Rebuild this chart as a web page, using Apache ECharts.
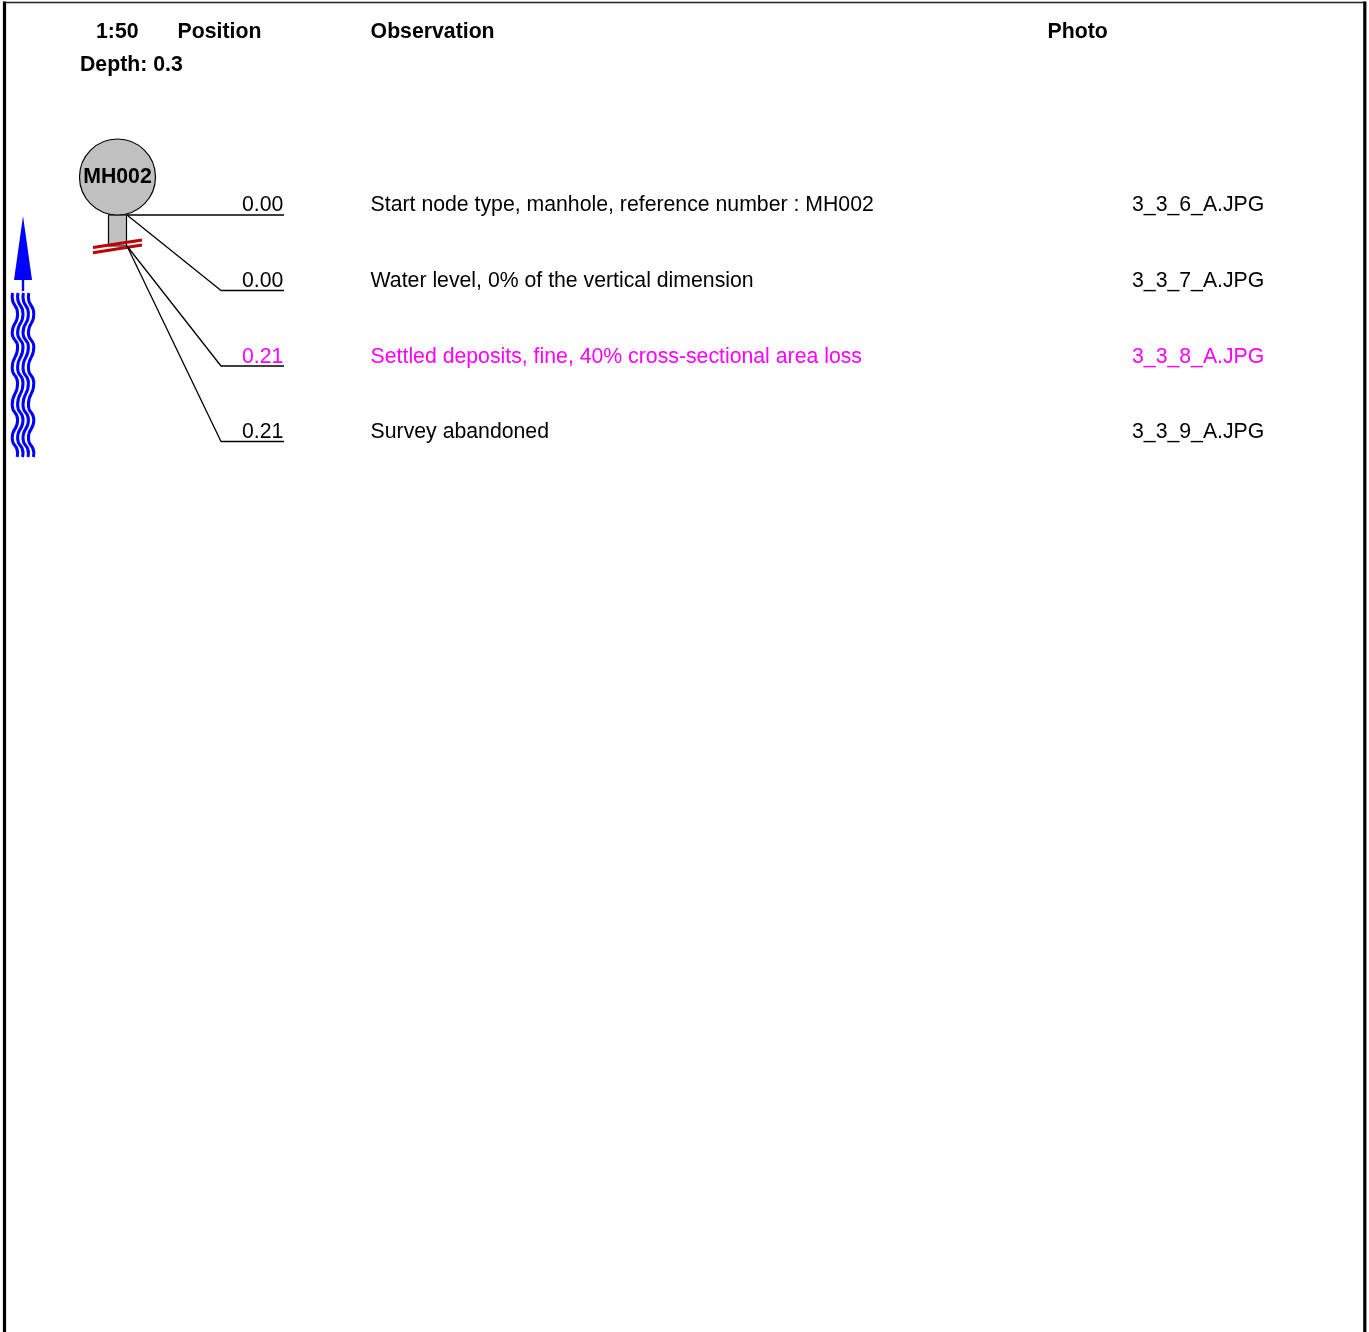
<!DOCTYPE html>
<html>
<head>
<meta charset="utf-8">
<style>html,body{margin:0;padding:0;background:#fff}#c{width:1369px;height:1332px}</style>
<script src="https://cdn.jsdelivr.net/npm/echarts@6/dist/echarts.min.js"></script>
</head>
<body>
<div id="c"></div>
<script>
const positions = ['0.00', '0.00', '0.21', '0.21'];
const observations = [
  'Start node type, manhole, reference number : MH002',
  'Water level, 0% of the vertical dimension',
  'Settled deposits, fine, 40% cross-sectional area loss',
  'Survey abandoned'
];
const photos = ['3_3_6_A.JPG', '3_3_7_A.JPG', '3_3_8_A.JPG', '3_3_9_A.JPG'];
const rowColors = ['#000000', '#000000', '#FF00FF', '#000000'];
const rowTextY = [205, 281, 357, 432];
const rowLineY = [215, 290.5, 366, 441.5];
const leaderStartY = [215, 215, 246, 246];
const leaderElbowX = [127, 221, 221, 221];
const headers = [
  ['1:50', 96, 32], ['Position', 177.6, 32], ['Observation', 370.6, 32],
  ['Photo', 1047.6, 32], ['Depth: 0.3', 80, 65]
];
const waveY =      [293, 297, 314, 333, 347, 368, 383, 405, 420, 438, 453, 457];
const waveOffset = [-2.2, -2.7, 2.7, -2.7, 2.7, -2.7, 2.7, -2.7, 2.7, -2.7, 2.7, 2.2];
const strandX = [14.9, 20.3, 25.7, 31.1];

const FONT = '"Liberation Sans", Arial, sans-serif';
const seg = (name, pts, color, width) => ({
  type: 'line', name, data: pts, symbol: 'none', silent: true, animation: false,
  lineStyle: { color, width, cap: 'butt' }, z: 3, clip: false
});
const poly = (pts, fill, stroke, z) => ({
  type: 'custom', silent: true, animation: false, z, clip: false,
  data: [[0, 0]],
  renderItem: (p, api) => ({
    type: 'polygon',
    shape: { points: pts.map(q => api.coord(q)) },
    style: { fill, stroke, lineWidth: stroke ? 1.2 : 0 }
  })
});
const texts = items => ({
  type: 'custom', silent: true, animation: false, z: 6, clip: false,
  data: items.map((t, i) => [t.x, t.y, i]),
  renderItem: (p, api) => {
    const t = items[api.value(2)];
    const c = api.coord([t.x, t.y]);
    return {
      type: 'text', x: c[0], y: c[1],
      style: {
        text: t.s, fill: t.color || '#000', align: t.align || 'left', verticalAlign: 'middle',
        font: (t.bold ? 'bold ' : '') + '21.25px ' + FONT
      }
    };
  }
});

const textItems = [];
headers.forEach(h => textItems.push({ s: h[0], x: h[1], y: h[2], bold: true }));
textItems.push({ s: 'MH002', x: 117.5, y: 177, bold: true, align: 'center' });
rowTextY.forEach((y, i) => {
  const color = rowColors[i];
  textItems.push({ s: positions[i], x: 242, y, color });
  textItems.push({ s: observations[i], x: 370.6, y, color });
  textItems.push({ s: photos[i], x: 1132, y, color });
});

const series = [];
series.push(seg('frameTop', [[3, 2.5], [1366, 2.5]], '#222', 1.6));
series.push(seg('frameLeft', [[4.5, 1.5], [4.5, 1332]], '#000', 3.2));
series.push(seg('frameRight', [[1364.8, 1.5], [1364.8, 1332]], '#000', 3.2));
// node + pipe
series.push({
  type: 'scatter', data: [[117.5, 177]], symbol: 'circle', symbolSize: 76, silent: true, animation: false, z: 4,
  itemStyle: { color: '#C0C0C0', borderColor: '#000', borderWidth: 1.2, opacity: 1 }
});
series.push(poly([[108.5, 215], [126.5, 215], [126.5, 246], [108.5, 246]], '#C0C0C0', '#000', 2));
series.push(seg('break1', [[93, 247.5], [142, 240]], '#C00000', 3));
series.push(seg('break2', [[93, 252.7], [142, 245]], '#C00000', 3));
// leaders
rowLineY.forEach((y, i) => {
  series.push(seg('leader' + i, [[127, leaderStartY[i]], [leaderElbowX[i], y], [284, y]], '#000', 1.3));
});
// flow arrow
series.push(poly([[23, 216], [32, 280], [14, 280]], '#0000FF', null, 3));
series.push(seg('stem', [[23, 280], [23, 291]], '#0000FF', 2.4));
strandX.forEach((sx, i) => {
  const s = seg('wave' + i, waveY.map((y, k) => [sx + waveOffset[k], y]), '#0000FF', 3);
  s.smooth = 0.6;
  series.push(s);
});
series.push(texts(textItems));

const chart = echarts.init(document.getElementById('c'), null, { renderer: 'canvas', width: 1369, height: 1332 });
chart.setOption({
  backgroundColor: '#fff',
  animation: false,
  grid: { left: 0, right: 0, top: 0, bottom: 0 },
  xAxis: { type: 'value', min: 0, max: 1369, show: false },
  yAxis: { type: 'value', min: 0, max: 1332, inverse: true, show: false },
  series
});
</script>
</body>
</html>
